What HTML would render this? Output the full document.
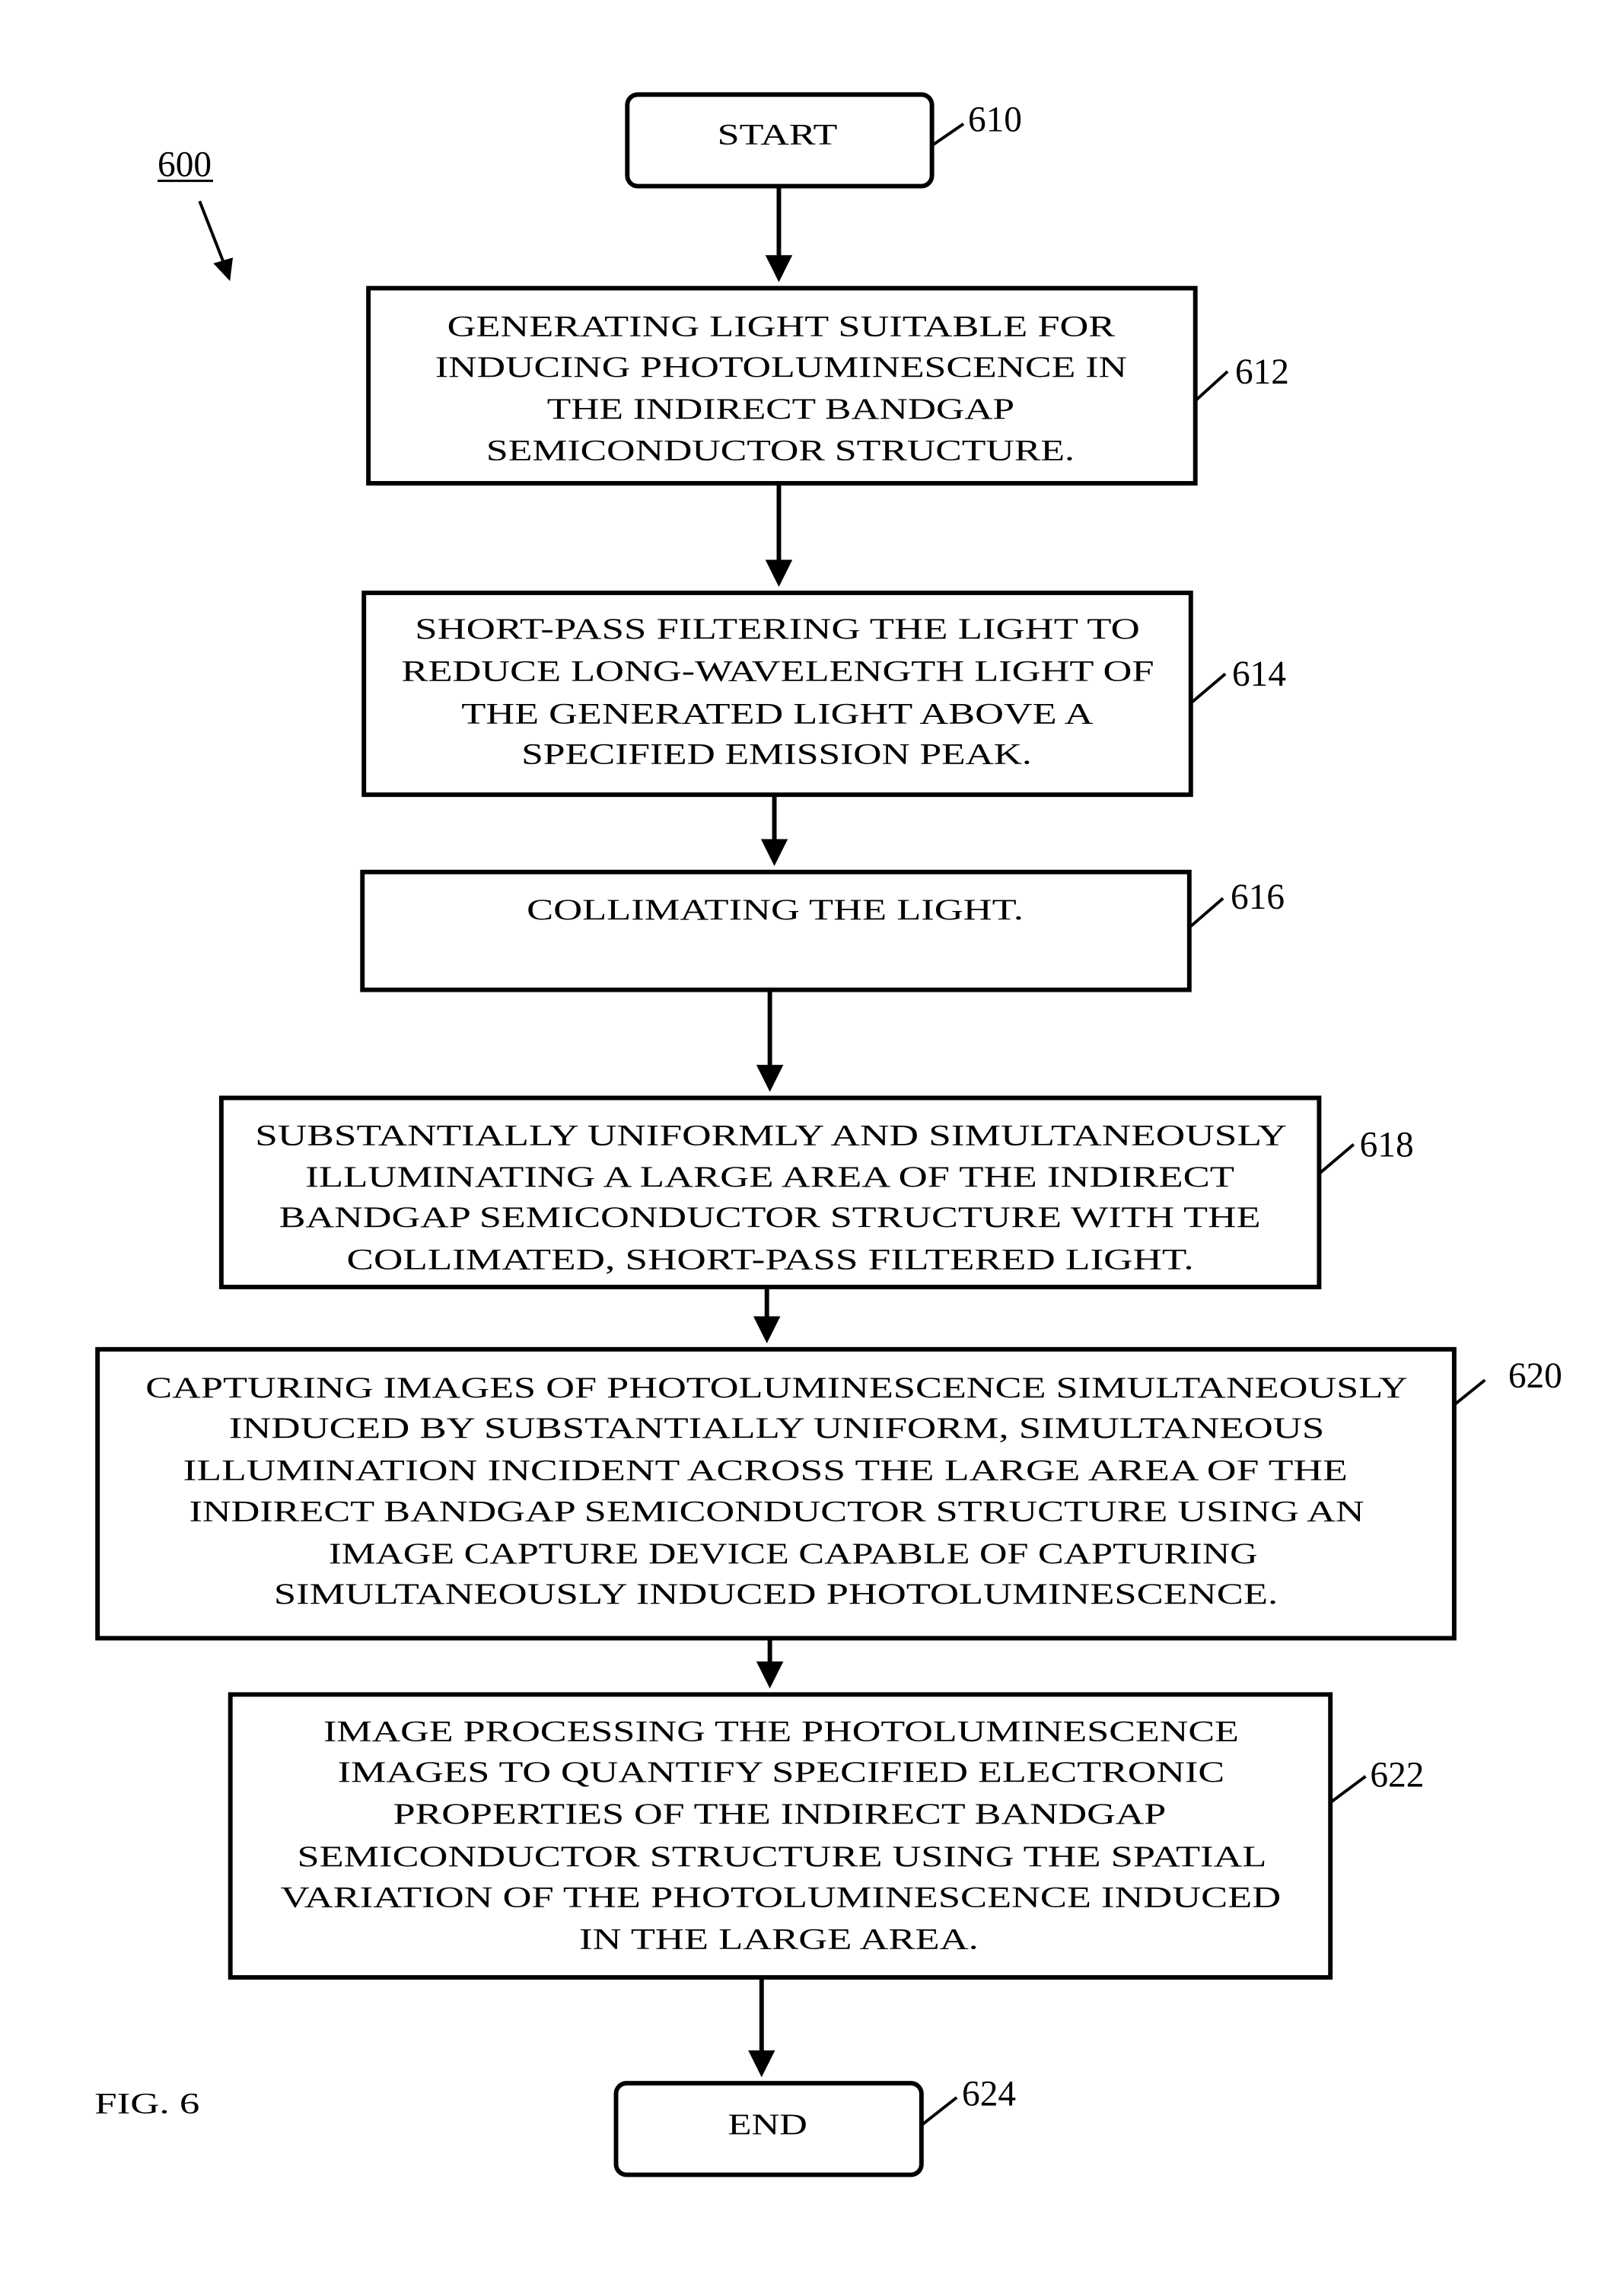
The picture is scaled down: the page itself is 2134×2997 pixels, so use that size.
<!DOCTYPE html>
<html><head><meta charset="utf-8"><style>html,body{margin:0;padding:0;background:#fff}svg{display:block}</style></head><body>
<svg width="2134" height="2997" viewBox="0 0 2134 2997" xmlns="http://www.w3.org/2000/svg" font-family="Liberation Serif, serif" fill="#000">
<defs><marker id="a" markerWidth="6" markerHeight="6" refX="5" refY="3" orient="auto" markerUnits="strokeWidth"><path d="M0,0 L6,3 L0,6 z" fill="#000"/></marker></defs>
<g transform="scale(0.986)">
<g fill="none" stroke="#000" stroke-width="6">
<rect x="836" y="126" width="406" height="122" rx="14"/>
<rect x="491" y="384" width="1102" height="260"/>
<rect x="485" y="790" width="1102" height="269"/>
<rect x="483" y="1162" width="1102" height="157"/>
<rect x="295" y="1463" width="1463" height="252"/>
<rect x="130" y="1798" width="1808" height="385"/>
<rect x="307" y="2258" width="1466" height="377"/>
<rect x="821" y="2776" width="407" height="122" rx="14"/>
</g>
<g stroke="#000" stroke-width="6" marker-end="url(#a)">
<line x1="1038" y1="248" x2="1038" y2="370"/>
<line x1="1038" y1="644" x2="1038" y2="776"/>
<line x1="1032" y1="1059" x2="1032" y2="1148"/>
<line x1="1026" y1="1319" x2="1026" y2="1449"/>
<line x1="1022" y1="1715" x2="1022" y2="1784"/>
<line x1="1026" y1="2183" x2="1026" y2="2244"/>
<line x1="1015" y1="2635" x2="1015" y2="2762"/>
</g>
<g stroke="#000" stroke-width="4">
<line x1="266" y1="268" x2="300" y2="355"/>
<path d="M288,352 L305,370 L308,346 z" fill="#000"/>
<line x1="1242" y1="194" x2="1284" y2="165"/>
<line x1="1593" y1="534" x2="1636" y2="495"/>
<line x1="1587" y1="937" x2="1633" y2="898"/>
<line x1="1585" y1="1236" x2="1630" y2="1197"/>
<line x1="1758" y1="1564" x2="1804" y2="1525"/>
<line x1="1938" y1="1872" x2="1979" y2="1839"/>
<line x1="1773" y1="2402" x2="1820" y2="2367"/>
<line x1="1228" y1="2832" x2="1275" y2="2795"/>
<line x1="210" y1="241" x2="284" y2="241" stroke-width="3"/>
</g>
<g font-size="48">
<text x="1290" y="175">610</text>
<text x="210" y="235">600</text>
<text x="1646" y="511">612</text>
<text x="1642" y="914">614</text>
<text x="1640" y="1211">616</text>
<text x="1812" y="1541">618</text>
<text x="2010" y="1849">620</text>
<text x="1826" y="2381">622</text>
<text x="1282" y="2806">624</text>
</g>
<g font-size="40">
<text x="956" y="192" textLength="160" lengthAdjust="spacingAndGlyphs">START</text>
<text x="596" y="448" textLength="890" lengthAdjust="spacingAndGlyphs">GENERATING LIGHT SUITABLE FOR</text>
<text x="580" y="502" textLength="922" lengthAdjust="spacingAndGlyphs">INDUCING PHOTOLUMINESCENCE IN</text>
<text x="729" y="558" textLength="623" lengthAdjust="spacingAndGlyphs">THE INDIRECT BANDGAP</text>
<text x="648" y="613" textLength="784" lengthAdjust="spacingAndGlyphs">SEMICONDUCTOR STRUCTURE.</text>
<text x="553" y="851" textLength="966" lengthAdjust="spacingAndGlyphs">SHORT-PASS FILTERING THE LIGHT TO</text>
<text x="535" y="907" textLength="1003" lengthAdjust="spacingAndGlyphs">REDUCE LONG-WAVELENGTH LIGHT OF</text>
<text x="615" y="964" textLength="842" lengthAdjust="spacingAndGlyphs">THE GENERATED LIGHT ABOVE A</text>
<text x="695" y="1018" textLength="680" lengthAdjust="spacingAndGlyphs">SPECIFIED EMISSION PEAK.</text>
<text x="702" y="1225" textLength="662" lengthAdjust="spacingAndGlyphs">COLLIMATING THE LIGHT.</text>
<text x="340" y="1526" textLength="1375" lengthAdjust="spacingAndGlyphs">SUBSTANTIALLY UNIFORMLY AND SIMULTANEOUSLY</text>
<text x="407" y="1581" textLength="1238" lengthAdjust="spacingAndGlyphs">ILLUMINATING A LARGE AREA OF THE INDIRECT</text>
<text x="372" y="1635" textLength="1308" lengthAdjust="spacingAndGlyphs">BANDGAP SEMICONDUCTOR STRUCTURE WITH THE</text>
<text x="462" y="1691" textLength="1129" lengthAdjust="spacingAndGlyphs">COLLIMATED, SHORT-PASS FILTERED LIGHT.</text>
<text x="194" y="1862" textLength="1682" lengthAdjust="spacingAndGlyphs">CAPTURING IMAGES OF PHOTOLUMINESCENCE SIMULTANEOUSLY</text>
<text x="305" y="1916" textLength="1460" lengthAdjust="spacingAndGlyphs">INDUCED BY SUBSTANTIALLY UNIFORM, SIMULTANEOUS</text>
<text x="244" y="1972" textLength="1552" lengthAdjust="spacingAndGlyphs">ILLUMINATION INCIDENT ACROSS THE LARGE AREA OF THE</text>
<text x="252" y="2027" textLength="1566" lengthAdjust="spacingAndGlyphs">INDIRECT BANDGAP SEMICONDUCTOR STRUCTURE USING AN</text>
<text x="438" y="2083" textLength="1238" lengthAdjust="spacingAndGlyphs">IMAGE CAPTURE DEVICE CAPABLE OF CAPTURING</text>
<text x="365" y="2137" textLength="1338" lengthAdjust="spacingAndGlyphs">SIMULTANEOUSLY INDUCED PHOTOLUMINESCENCE.</text>
<text x="431" y="2320" textLength="1220" lengthAdjust="spacingAndGlyphs">IMAGE PROCESSING THE PHOTOLUMINESCENCE</text>
<text x="450" y="2374" textLength="1182" lengthAdjust="spacingAndGlyphs">IMAGES TO QUANTIFY SPECIFIED ELECTRONIC</text>
<text x="524" y="2430" textLength="1030" lengthAdjust="spacingAndGlyphs">PROPERTIES OF THE INDIRECT BANDGAP</text>
<text x="396" y="2487" textLength="1292" lengthAdjust="spacingAndGlyphs">SEMICONDUCTOR STRUCTURE USING THE SPATIAL</text>
<text x="374" y="2541" textLength="1333" lengthAdjust="spacingAndGlyphs">VARIATION OF THE PHOTOLUMINESCENCE INDUCED</text>
<text x="772" y="2597" textLength="532" lengthAdjust="spacingAndGlyphs">IN THE LARGE AREA.</text>
<text x="970" y="2844" textLength="106" lengthAdjust="spacingAndGlyphs">END</text>
<text x="126" y="2816" textLength="140" lengthAdjust="spacingAndGlyphs">FIG. 6</text>
</g>
</g>
</svg>
</body></html>
